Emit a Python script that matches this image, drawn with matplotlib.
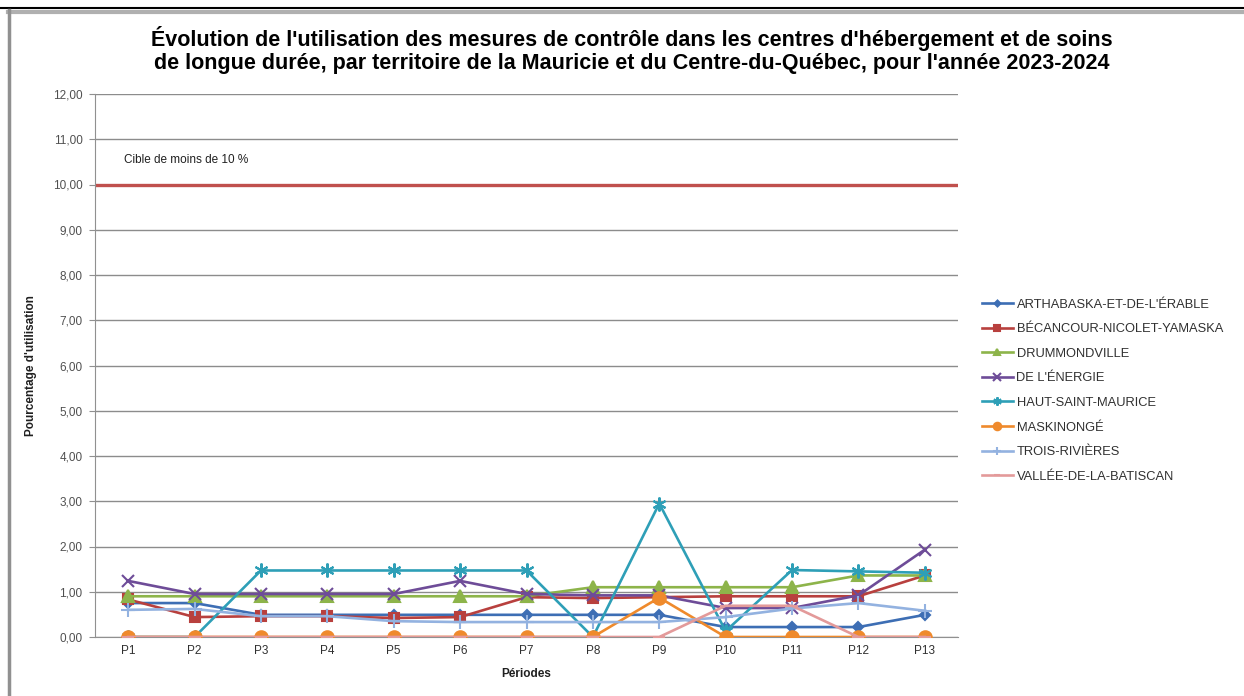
import matplotlib
matplotlib.use("Agg")
import matplotlib.pyplot as plt
from matplotlib.lines import Line2D
from matplotlib.ticker import FuncFormatter

plt.rcParams['font.family'] = ['Liberation Sans', 'DejaVu Sans']

periodes = ['P1', 'P2', 'P3', 'P4', 'P5', 'P6', 'P7', 'P8', 'P9', 'P10', 'P11', 'P12', 'P13']

arthabaska = [0.75, 0.75, 0.49, 0.49, 0.49, 0.49, 0.49, 0.49, 0.49, 0.22, 0.22, 0.22, 0.49]
becancour = [0.83, 0.44, 0.46, 0.46, 0.42, 0.44, 0.88, 0.86, 0.88, 0.90, 0.90, 0.90, 1.36]
drummondville = [0.90, 0.90, 0.90, 0.90, 0.90, 0.90, 0.90, 1.10, 1.10, 1.10, 1.10, 1.36, 1.36]
energie = [1.24, 0.95, 0.95, 0.95, 0.95, 1.24, 0.95, 0.92, 0.92, 0.64, 0.64, 0.92, 1.93]
haut_st_maurice = [0.0, 0.0, 1.47, 1.47, 1.47, 1.47, 1.47, 0.0, 2.95, 0.13, 1.48, 1.45, 1.42]
maskinonge = [0.0, 0.0, 0.0, 0.0, 0.0, 0.0, 0.0, 0.0, 0.87, 0.0, 0.0, 0.0, 0.0]
trois_rivieres = [0.60, 0.62, 0.46, 0.46, 0.35, 0.33, 0.33, 0.33, 0.33, 0.44, 0.63, 0.75, 0.58]
vallee = [0.0, 0.0, 0.0, 0.0, 0.0, 0.0, 0.0, 0.0, 0.0, 0.69, 0.69, 0.0, 0.0]

noms = ["ARTHABASKA-ET-DE-L'ÉRABLE", "BÉCANCOUR-NICOLET-YAMASKA", "DRUMMONDVILLE",
        "DE L'ÉNERGIE", "HAUT-SAINT-MAURICE", "MASKINONGÉ", "TROIS-RIVIÈRES",
        "VALLÉE-DE-LA-BATISCAN"]
series = [arthabaska, becancour, drummondville, energie, haut_st_maurice,
          maskinonge, trois_rivieres, vallee]
couleurs = ['#3d6eb4', '#b8403e', '#8db44a', '#6e4c98', '#2e9fb7', '#ef8a2c', '#93b2e0', '#e39a9a']
marqueurs = ['D', 's', '^', 'x', (6, 2, 0), 'o', '+', '_']
tailles = [5, 7, 8, 9, 10, 9, 10, 8]

cible = 10.0

fig = plt.figure(figsize=(12.44, 6.96), dpi=100)

# cadre facon capture Excel
fig.add_artist(Line2D([0, 1], [1 - 8 / 696, 1 - 8 / 696], color='black', lw=1.5))
fig.add_artist(Line2D([8 / 1244, 1], [1 - 12 / 696, 1 - 12 / 696], color='#b0b0b0', lw=3))
fig.add_artist(Line2D([9 / 1244, 9 / 1244], [0, 1 - 10 / 696], color='#909090', lw=2.5))

ax = fig.add_axes([95 / 1244, 1 - 637 / 696, 863 / 1244, 543 / 696])
x = list(range(len(periodes)))

for vals, nom, c, m, s in zip(series, noms, couleurs, marqueurs, tailles):
    ax.plot(x, vals, color=c, lw=1.9, marker=m, markersize=s, markeredgewidth=1.5,
            markerfacecolor=c, markeredgecolor=c, label=nom, zorder=3)

ax.axhline(cible, color='#c0504d', lw=2.4, zorder=2)
ax.text(-0.06, 10.55, 'Cible de moins de 10 %', fontsize=8.5, color='#202020', va='center')

ax.set_xlim(-0.5, len(periodes) - 0.5)
ax.set_ylim(0, 12)
ax.set_yticks(range(0, 13))
ax.yaxis.set_major_formatter(FuncFormatter(lambda v, p: f'{v:.2f}'.replace('.', ',')))
ax.set_xticks(x)
ax.set_xticklabels(periodes, fontsize=8.5, color='#303030')
ax.tick_params(axis='y', labelsize=8.5, labelcolor='#505050', length=4, color='#909090', pad=5)
ax.tick_params(axis='x', length=0, pad=6)
ax.grid(axis='y', color='#8c8c8c', lw=1)
ax.set_axisbelow(True)
for sp in ['top', 'right']:
    ax.spines[sp].set_visible(False)
ax.spines['left'].set_color('#909090')
ax.spines['bottom'].set_color('#909090')

ax.set_xlabel('Périodes', fontsize=8.5, fontweight='bold', color='#202020', labelpad=8)
ax.set_ylabel("Pourcentage d'utilisation", fontsize=8.5, fontweight='bold', color='#202020')
ax.yaxis.set_label_coords(-0.067, 0.5)

fig.text(632 / 1244, 1 - 50 / 696,
         "Évolution de l'utilisation des mesures de contrôle dans les centres d'hébergement et de soins\n"
         "de longue durée, par territoire de la Mauricie et du Centre-du-Québec, pour l'année 2023-2024",
         ha='center', va='center', fontsize=15.5, fontweight='bold', linespacing=1.1)

leg = fig.legend(loc='upper left', bbox_to_anchor=(970 / 1244, 1 - 287 / 696), frameon=False,
                 fontsize=9.3, handlelength=2.4, handletextpad=0.3, labelspacing=0.97,
                 markerscale=0.6)
for t in leg.get_texts():
    t.set_color('#303030')

fig.savefig('out.png', dpi=100)
